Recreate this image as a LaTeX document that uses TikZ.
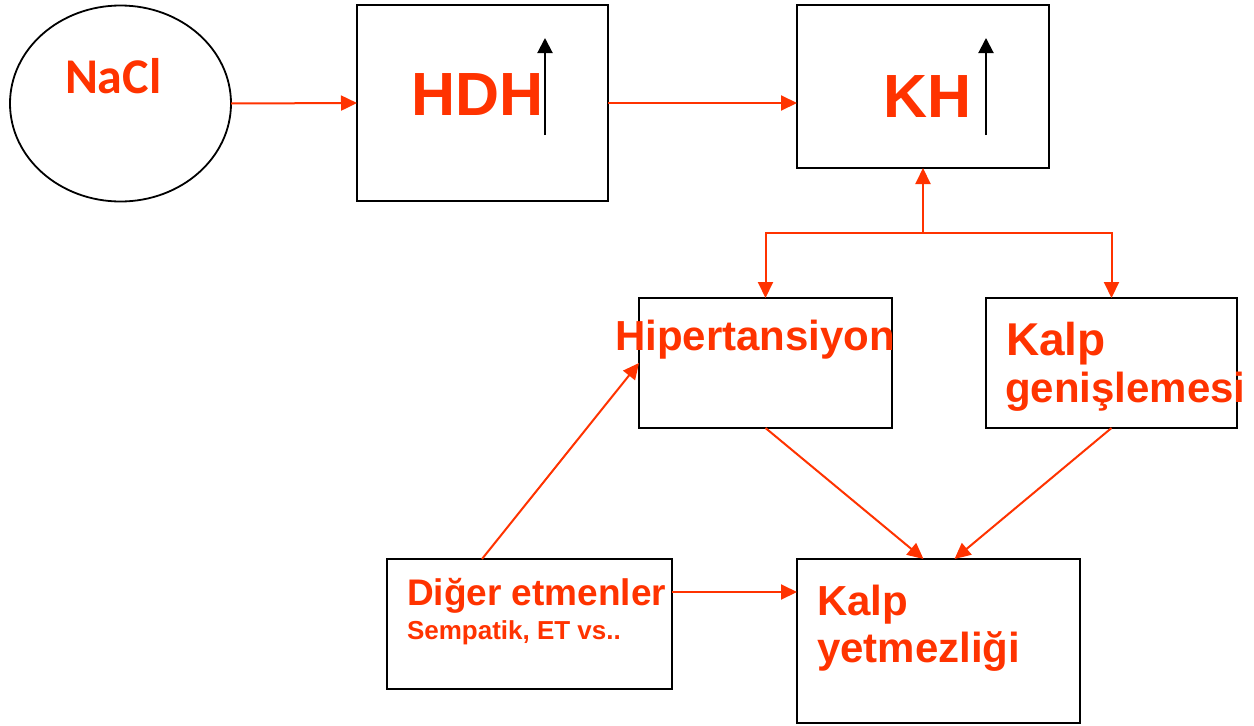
\documentclass[tikz,border=0pt]{standalone}
\usepackage{fontspec}
\setmainfont{Liberation Sans}
\newfontfamily\calib{Carlito}
\usetikzlibrary{arrows.meta,calc,shapes.geometric}
\definecolor{ored}{HTML}{FF3300}
\begin{document}
\begin{tikzpicture}[x=1pt,y=-1pt,
 box/.style={draw=black,line width=1.8pt,rectangle,inner sep=0pt,outer sep=0pt},
 lbl/.style={text=ored,anchor=base west,inner sep=0pt,outer sep=0pt},
 rarr/.style={draw=ored,line width=2pt,-{Triangle[length=16pt,width=15pt]}},
 barr/.style={draw=black,line width=2pt,-{Triangle[length=15pt,width=15pt]}}]
\useasboundingbox (0,0) rectangle (1254,726);
\fill[white] (0,0) rectangle (1254,726);

% shapes
\node[box,ellipse,minimum width=221pt,minimum height=196pt] (nacl) at (120.5,103.5) {};
\node[box,minimum width=251pt,minimum height=196pt] (hdh) at (482.5,103) {};
\node[box,minimum width=252pt,minimum height=163pt] (kh) at (923,86.5) {};
\node[box,minimum width=253pt,minimum height=130pt] (hip) at (765.5,363) {};
\node[box,minimum width=251pt,minimum height=130pt] (kg) at (1111.5,363) {};
\node[box,minimum width=283pt,minimum height=164pt] (ky) at (938.5,641) {};
\node[box,minimum width=285pt,minimum height=130pt] (dig) at (529.5,624) {};

% texts
\node[lbl,font=\calib\bfseries\fontsize{50}{60}\selectfont] (tnacl) at (65,93) {NaCl};
\node[lbl,font=\bfseries\fontsize{61}{70}\selectfont] (thdh) at (411,115) {HDH};
\node[lbl,font=\bfseries\fontsize{61}{70}\selectfont] (tkh) at (883,117) {KH};
\node[lbl,font=\bfseries\fontsize{42}{47}\selectfont] (thip) at (615,350) {Hipertansiyon};
\node[lbl,font=\bfseries\fontsize{46}{50}\selectfont] (tkg1) at (1006,355) {Kalp};
\node[lbl,font=\bfseries\fontsize{42}{47}\selectfont] (tkg2) at (1005,402) {genişlemesi};
\node[lbl,font=\bfseries\fontsize{42}{47}\selectfont] (tky1) at (817,615) {Kalp};
\node[lbl,font=\bfseries\fontsize{42}{47}\selectfont] (tky2) at (817,662) {yetmezliği};
\node[lbl,font=\bfseries\fontsize{37}{42}\selectfont] (tdig1) at (407,605) {Diğer etmenler};
\node[lbl,font=\bfseries\fontsize{26}{30}\selectfont] (tdig2) at (407,639) {Sempatik, ET vs..};

% black up arrows
\coordinate (ha0) at (545,135);
\coordinate (ha1) at (545,38);
\coordinate (ka0) at (986,135);
\coordinate (ka1) at (986,38);
\draw[barr] (ha0) -- (ha1);
\draw[barr] (ka0) -- (ka1);

% connectors
\draw[rarr] (nacl.east) -- (hdh.west);
\draw[rarr] (hdh.east) -- (hdh.east -| kh.west);
\coordinate (j) at (923,233);
\draw[rarr] (j) -- (kh.south);
\draw[rarr] (j) -| (hip.north);
\draw[rarr] (j) -| (kg.north);
\draw[rarr] (hip.south) -- ($(ky.north)+(-15,0)$);
\draw[rarr] (kg.south) -- ($(ky.north)+(16,0)$);
\draw[rarr] ($(dig.north west)+(95,0)$) -- (hip.west);
\coordinate (dd) at ($(dig.north east)+(0,33)$);
\draw[rarr] (dd) -- (dd -| ky.west);
\end{tikzpicture}
\end{document}
